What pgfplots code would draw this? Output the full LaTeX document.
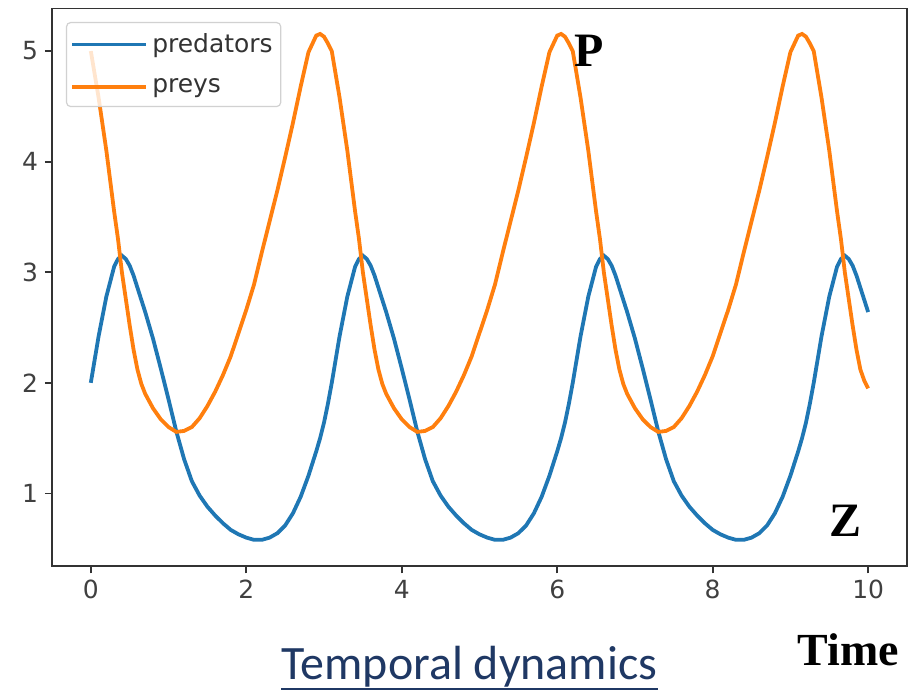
\documentclass[border=0pt]{standalone}
\usepackage{fontspec}
\setmainfont{DejaVu Sans}
\newfontfamily\carlito{Carlito}
\newfontfamily\timesfont{Liberation Serif}
\usepackage{pgfplots}
\usepackage{pgfplotstable}
\pgfplotsset{compat=1.18}
\definecolor{mplblue}{HTML}{1F77B4}
\definecolor{mplorange}{HTML}{FF7F0E}
\definecolor{navytitle}{HTML}{1F3864}
\definecolor{framegray}{HTML}{333333}

% time, predators, preys
\pgfplotstableread{
t pred prey
0.00 2.00 5.00
0.10 2.42 4.58
0.20 2.78 4.10
0.30 3.05 3.55
0.35 3.12 3.30
0.40 3.15 3.00
0.45 3.12 2.76
0.50 3.06 2.52
0.55 2.97 2.30
0.60 2.86 2.12
0.65 2.75 1.99
0.70 2.64 1.90
0.80 2.40 1.77
0.90 2.13 1.67
1.00 1.85 1.60
1.10 1.56 1.556
1.20 1.31 1.565
1.30 1.11 1.60
1.40 0.98 1.68
1.50 0.88 1.79
1.60 0.80 1.92
1.70 0.73 2.07
1.80 0.67 2.24
1.90 0.63 2.45
2.00 0.60 2.66
2.10 0.58 2.89
2.20 0.58 3.18
2.30 0.60 3.46
2.40 0.64 3.74
2.50 0.71 4.04
2.60 0.82 4.35
2.70 0.97 4.68
2.80 1.16 4.99
2.90 1.38 5.14
2.95 1.50 5.155
3.00 1.64 5.13
3.05 1.81 5.07
3.10 2.00 5.00
3.20 2.42 4.58
3.30 2.78 4.10
3.40 3.05 3.55
3.45 3.12 3.30
3.50 3.15 3.00
3.55 3.12 2.76
3.60 3.06 2.52
3.65 2.97 2.30
3.70 2.86 2.12
3.75 2.75 1.99
3.80 2.64 1.90
3.90 2.40 1.77
4.00 2.13 1.67
4.10 1.85 1.60
4.20 1.56 1.556
4.30 1.31 1.565
4.40 1.11 1.60
4.50 0.98 1.68
4.60 0.88 1.79
4.70 0.80 1.92
4.80 0.73 2.07
4.90 0.67 2.24
5.00 0.63 2.45
5.10 0.60 2.66
5.20 0.58 2.89
5.30 0.58 3.18
5.40 0.60 3.46
5.50 0.64 3.74
5.60 0.71 4.04
5.70 0.82 4.35
5.80 0.97 4.68
5.90 1.16 4.99
6.00 1.38 5.14
6.05 1.50 5.155
6.10 1.64 5.13
6.15 1.81 5.07
6.20 2.00 5.00
6.30 2.42 4.58
6.40 2.78 4.10
6.50 3.05 3.55
6.55 3.12 3.30
6.60 3.15 3.00
6.65 3.12 2.76
6.70 3.06 2.52
6.75 2.97 2.30
6.80 2.86 2.12
6.85 2.75 1.99
6.90 2.64 1.90
7.00 2.40 1.77
7.10 2.13 1.67
7.20 1.85 1.60
7.30 1.56 1.556
7.40 1.31 1.565
7.50 1.11 1.60
7.60 0.98 1.68
7.70 0.88 1.79
7.80 0.80 1.92
7.90 0.73 2.07
8.00 0.67 2.24
8.10 0.63 2.45
8.20 0.60 2.66
8.30 0.58 2.89
8.40 0.58 3.18
8.50 0.60 3.46
8.60 0.64 3.74
8.70 0.71 4.04
8.80 0.82 4.35
8.90 0.97 4.68
9.00 1.16 4.99
9.10 1.38 5.14
9.15 1.50 5.155
9.20 1.64 5.13
9.25 1.81 5.07
9.30 2.00 5.00
9.40 2.42 4.58
9.50 2.78 4.10
9.60 3.05 3.55
9.65 3.12 3.30
9.70 3.15 3.00
9.75 3.12 2.76
9.80 3.06 2.52
9.85 2.97 2.30
9.90 2.86 2.12
9.95 2.75 2.02
10.00 2.64 1.95
}\lvdata

\begin{document}
\begin{tikzpicture}
\begin{axis}[
    at={(0,0)}, anchor=south west,
    scale only axis,
    width=428pt, height=279.25pt,
    xmin=-0.5, xmax=10.5,
    ymin=0.34, ymax=5.385,
    xtick={0,2,4,6,8,10},
    ytick={1,2,3,4,5},
    tick align=outside,
    tick pos=left,
    major tick length=3.5pt,
    axis line style={framegray, line width=0.9pt},
    every tick/.style={framegray, line width=0.9pt},
    tick label style={font=\fontsize{12.5}{15}\selectfont, text=black!75},
    /pgf/number format/assume math mode=true,
    legend cell align=left,
    legend image code/.code={\draw[#1, line width=1.9pt] (0pt,0pt) -- (28pt,0pt); \path (0pt,0pt) -- (37pt,0pt);},
    legend style={at={(0.0164,0.9758)}, anchor=north west,
        draw=black!18, rounded corners=2pt, fill=white, fill opacity=0.8,
        text opacity=1, line width=0.6pt,
        font=\fontsize{12.5}{15}\selectfont, text=black!80,
        inner xsep=2pt, inner ysep=3.5pt, row sep=7.5pt},
]
\addplot[mplblue, line width=1.9pt] table[x=t, y=pred] {\lvdata};
\addplot[mplorange, line width=1.9pt] table[x=t, y=prey] {\lvdata};
\legend{predators, preys}
\end{axis}

\node[anchor=base, inner sep=0pt, font=\timesfont\bfseries\fontsize{24}{28}\selectfont] at (269pt,250pt) {P};
\node[anchor=base, inner sep=0pt, font=\timesfont\bfseries\fontsize{24}{28}\selectfont] at (397pt,15pt) {Z};
\node[anchor=base, inner sep=0pt, font=\timesfont\bfseries\fontsize{23}{28}\selectfont] at (398.5pt,-49.5pt) {Time};
\node[anchor=base, inner sep=0pt, font=\carlito\fontsize{24}{28}\selectfont, text=navytitle] (T) at (209pt,-56.5pt) {Temporal dynamics};
\draw[navytitle, line width=0.9pt] ([yshift=-5pt]T.base west) -- ([yshift=-5pt]T.base east);

\pgfresetboundingbox
\path[use as bounding box] (-26pt,-62.5pt) rectangle (428.5pt,283.5pt);
\end{tikzpicture}
\end{document}
